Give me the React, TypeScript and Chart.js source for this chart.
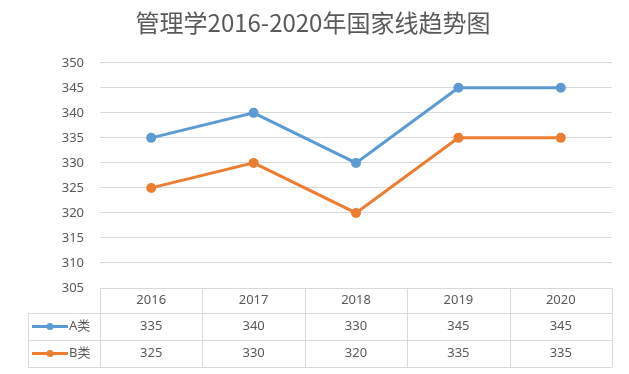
import React, { useEffect, useRef } from "react";
import { Chart, registerables } from "chart.js";

Chart.register(...registerables);

const titleText = "管理学2016-2020年国家线趋势图";
const categories = ["2016", "2017", "2018", "2019", "2020"];
const seriesNames = ["A类", "B类"];
const seriesA = [335, 340, 330, 345, 345];
const seriesB = [325, 330, 320, 335, 335];
const colors = ["#5B9BD5", "#ED7D31"];
const yMin = 305;
const yMax = 350;
const yStep = 5;

const FONT = "'Noto Sans', 'Noto Sans CJK SC', sans-serif";
const TEXT = "#595959";
const GRID = "#D9D9D9";

const tablePlugin = {
  id: "dataTable",
  afterDraw(chart: any) {
    const ctx = chart.ctx;
    const area = chart.chartArea;
    const xs = chart.scales.x;
    const n = categories.length;
    const colW = (area.right - area.left) / n;
    const top = area.bottom;
    const headerBottom = top + 25;
    const rowH = 27;
    const rows = [seriesA, seriesB];
    const legendLeft = 28;
    const bottom = headerBottom + rowH * rows.length;

    ctx.save();
    ctx.strokeStyle = GRID;
    ctx.lineWidth = 1;
    const hline = (x1: number, x2: number, y: number) => {
      ctx.beginPath();
      ctx.moveTo(x1, Math.round(y) + 0.5);
      ctx.lineTo(x2, Math.round(y) + 0.5);
      ctx.stroke();
    };
    const vline = (x: number, y1: number, y2: number) => {
      ctx.beginPath();
      ctx.moveTo(Math.round(x) + 0.5, y1);
      ctx.lineTo(Math.round(x) + 0.5, y2);
      ctx.stroke();
    };
    hline(area.left, area.right, top);
    for (let r = 0; r <= rows.length; r++) {
      hline(legendLeft, area.right, headerBottom + r * rowH);
    }
    vline(legendLeft, headerBottom, bottom);
    for (let i = 0; i <= n; i++) {
      vline(area.left + i * colW, top, bottom);
    }

    ctx.fillStyle = TEXT;
    ctx.font = `13px ${FONT}`;
    ctx.textAlign = "center";
    ctx.textBaseline = "middle";
    categories.forEach((c, i) => {
      const x = xs.getPixelForValue(i);
      ctx.fillText(c, x, (top + headerBottom) / 2);
      rows.forEach((row, r) => {
        ctx.fillText(String(row[i]), x, headerBottom + r * rowH + rowH / 2);
      });
    });

    rows.forEach((_, r) => {
      const cy = headerBottom + r * rowH + rowH / 2;
      ctx.strokeStyle = colors[r];
      ctx.lineWidth = 3;
      ctx.beginPath();
      ctx.moveTo(32, cy);
      ctx.lineTo(68, cy);
      ctx.stroke();
      ctx.fillStyle = colors[r];
      ctx.beginPath();
      ctx.arc(50, cy, 3.5, 0, Math.PI * 2);
      ctx.fill();
      ctx.fillStyle = TEXT;
      ctx.textAlign = "left";
      ctx.fillText(seriesNames[r], 69, cy);
    });
    ctx.restore();
  },
};

export default function App() {
  const ref = useRef<HTMLCanvasElement>(null);
  useEffect(() => {
    if (!ref.current) return;
    const chart = new Chart(ref.current, {
      type: "line",
      data: {
        labels: categories,
        datasets: [seriesA, seriesB].map((d, i) => ({
          label: seriesNames[i],
          data: d,
          borderColor: colors[i],
          backgroundColor: colors[i],
          borderWidth: 3,
          pointRadius: 3.5,
          pointHoverRadius: 3.5,
          tension: 0,
        })),
      },
      options: {
        animation: false,
        responsive: false,
        maintainAspectRatio: false,
        layout: { padding: { left: 14, right: 17, top: 0, bottom: 86 } },
        plugins: {
          legend: { display: false },
          tooltip: { enabled: false },
          title: {
            display: true,
            text: titleText,
            color: TEXT,
            font: { family: "'Noto Sans CJK SC', sans-serif", size: 24, weight: "normal" },
            padding: { top: 8, bottom: 26 },
          },
        },
        scales: {
          x: {
            type: "category",
            offset: true,
            display: false,
          },
          y: {
            min: yMin,
            max: yMax,
            afterFit: (s: any) => {
              s.width = 86;
            },
            ticks: {
              stepSize: yStep,
              color: TEXT,
              font: { family: FONT, size: 13 },
              padding: 16,
            },
            grid: { color: GRID, drawTicks: false },
            border: { display: false },
          },
        },
      },
      plugins: [tablePlugin],
    });
    return () => chart.destroy();
  }, []);
  return (
    <div style={{ position: "absolute", left: 0, top: 0, width: 629, height: 374, background: "#fff" }}>
      <canvas ref={ref} width={629} height={374} />
    </div>
  );
}
